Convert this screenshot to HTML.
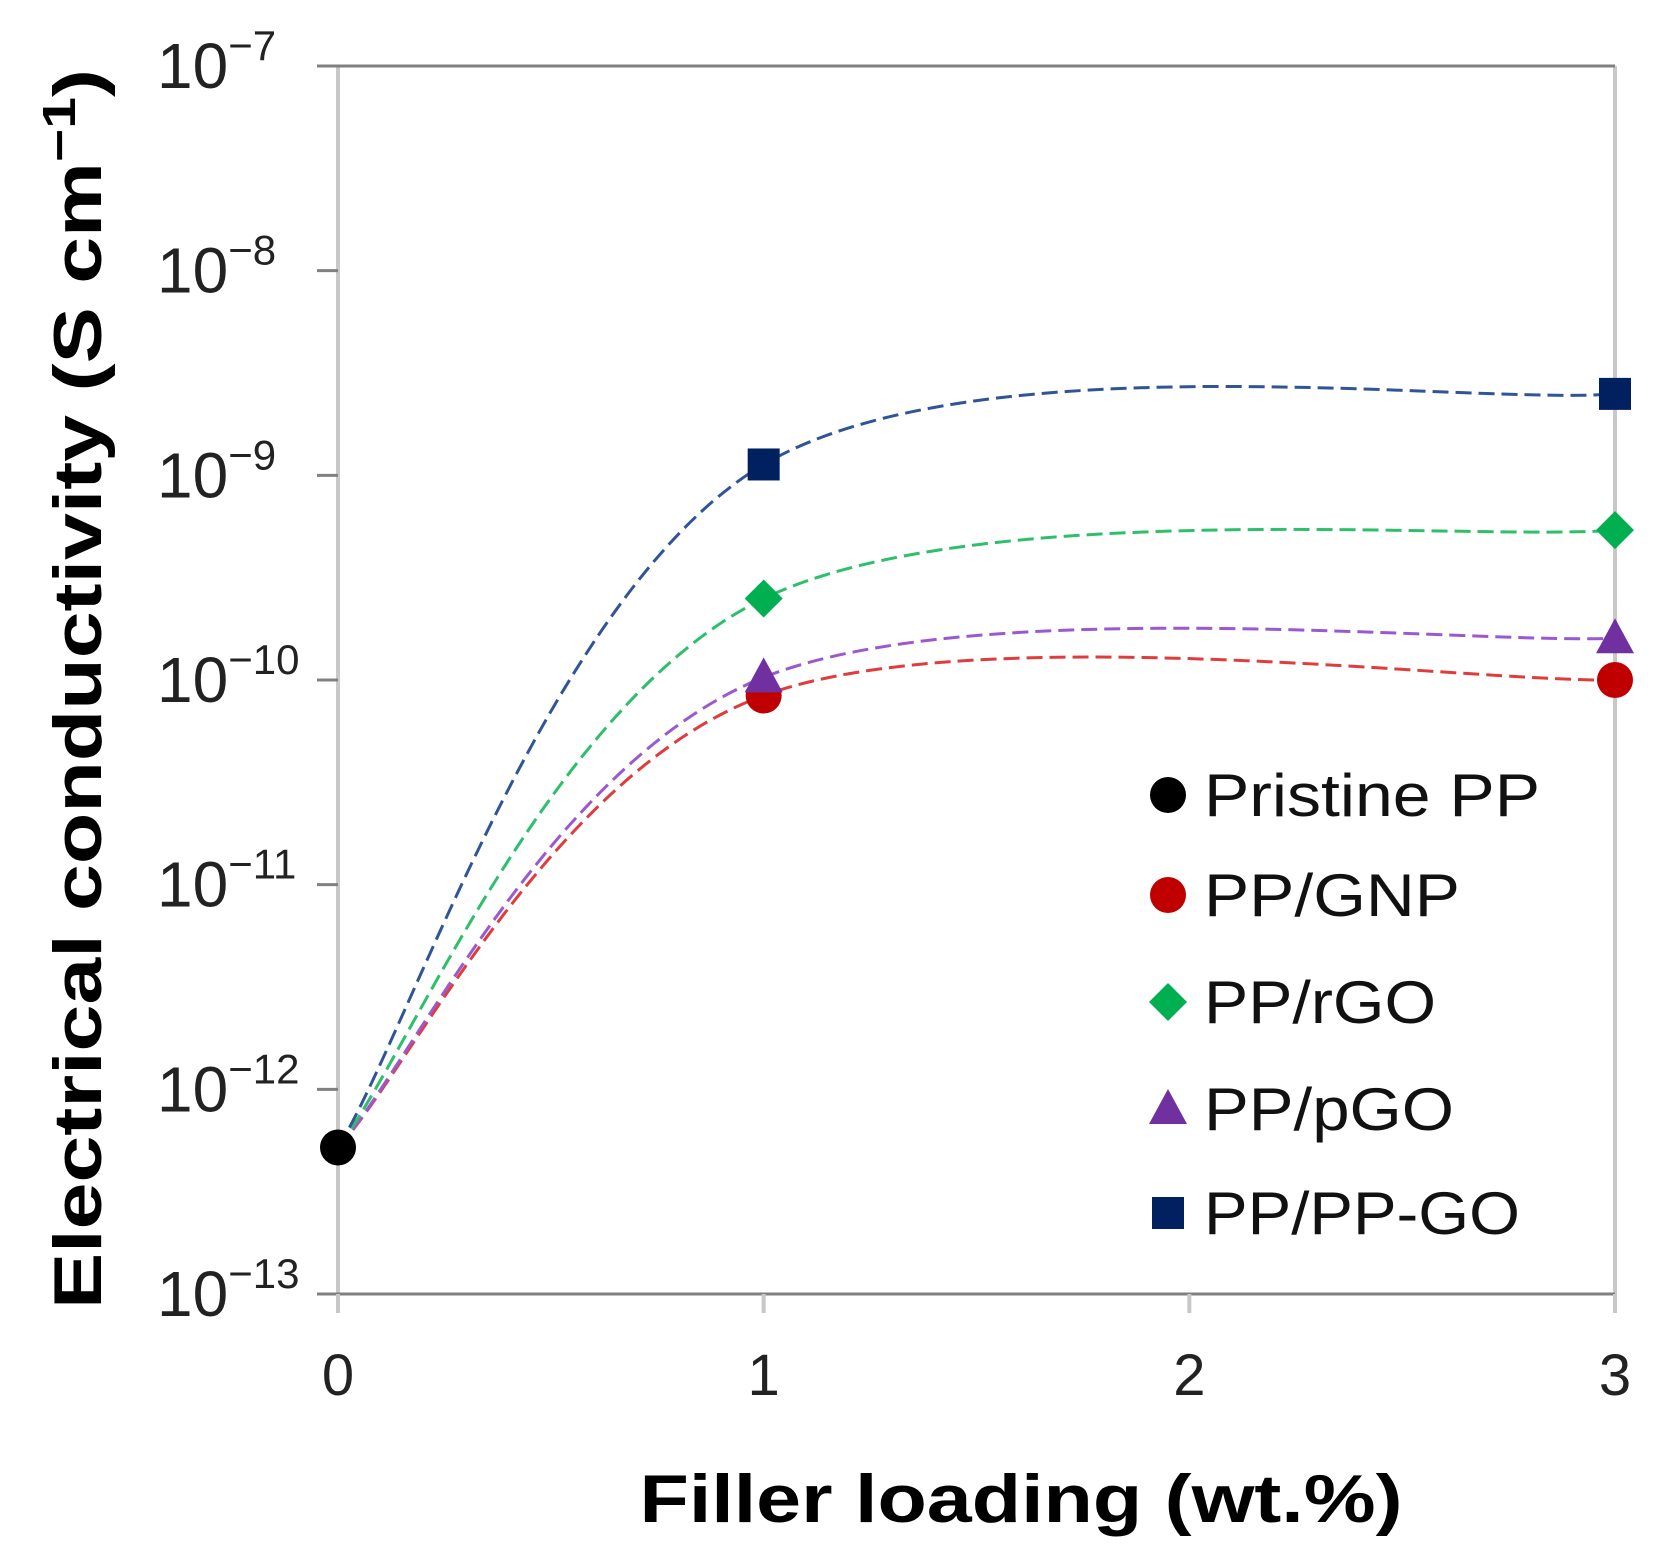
<!DOCTYPE html>
<html><head><meta charset="utf-8"><style>
html,body{margin:0;padding:0;background:#fff;}
svg{display:block;font-family:"Liberation Sans",Arial,sans-serif;}
</style></head><body>
<svg id="chart" width="1668" height="1564" viewBox="0 0 1668 1564" xmlns="http://www.w3.org/2000/svg">
<g id="axes"></g>
<g id="lines"></g>
<g id="marks"></g>
<g id="legend"></g>
<text x="1021" y="1522" text-anchor="middle" font-size="68" font-weight="bold" textLength="763" lengthAdjust="spacingAndGlyphs">Filler loading (wt.%)</text>
<text transform="translate(101,689) rotate(-90)" text-anchor="middle" font-size="68" font-weight="bold" textLength="1240" lengthAdjust="spacingAndGlyphs">Electrical conductivity (S cm<tspan font-size="46" dy="-26">−1</tspan><tspan dy="26">)</tspan></text>
</svg>
<script>
const xTicks=[0,1,2,3];
const yExps=[-13,-12,-11,-10,-9,-8,-7];
const seriesNames=["Pristine PP","PP/GNP","PP/rGO","PP/pGO","PP/PP-GO"];
const pristineX=[0];
const pristineY=[5.2e-13];
const loadX=[1,3];
const gnpY=[8.4e-11,1.0e-10];
const rgoY=[2.5e-10,5.4e-10];
const pgoY=[1.03e-10,1.6e-10];
const ppgoY=[1.13e-9,2.5e-9];

const NS="http://www.w3.org/2000/svg";
const X0=338,X1=1615,Y0=1294,Y1=66;
function sx(v){return X0+(v-0)/(3-0)*(X1-X0);}
function sy(v){const l=Math.log10(v);return Y0-(l-(-13))/6*(Y0-Y1);}
function mk(tag,attrs,parent){const e=document.createElementNS(NS,tag);for(const k in attrs)e.setAttribute(k,attrs[k]);parent.appendChild(e);return e;}
const axes=document.getElementById('axes'),lines=document.getElementById('lines'),marks=document.getElementById('marks'),legend=document.getElementById('legend');

let e;
e=mk('line',{x1:X0,y1:Y1,x2:X0,y2:Y0+1,stroke:'#c8c8c8','stroke-width':4},axes);

e=mk('line',{x1:X1,y1:Y1,x2:X1,y2:Y0,stroke:'#c8c8c8','stroke-width':4},axes);

e=mk('line',{x1:X0,y1:Y1,x2:X1,y2:Y1,stroke:'#808080','stroke-width':3},axes);

e=mk('line',{x1:X0,y1:Y0,x2:X1,y2:Y0,stroke:'#808080','stroke-width':3},axes);


yExps.forEach(p=>{
  const y=sy(Math.pow(10,p));
  const t=mk('line',{x1:317,y1:y,x2:X0,y2:y,stroke:'#808080','stroke-width':3},axes);
  
  const tx=mk('text',{x:157,y:y+22,'font-size':64,fill:'#222'},axes);
  
  tx.textContent='10';
  const sp=mk('tspan',{'font-size':42,dy:-28},tx);sp.textContent='−'+(-p);
});
xTicks.forEach(v=>{
  const x=sx(v);
  const t=mk('line',{x1:x,y1:Y0,x2:x,y2:1313,stroke:'#c8c8c8','stroke-width':4},axes);
  
  const tx=mk('text',{x:x,y:1395,'font-size':58,'text-anchor':'middle',fill:'#222'},axes);
  
  tx.textContent=String(v);
});

function curve(ys,color,name){
  const pts=[[sx(pristineX[0]),sy(pristineY[0])]].concat(loadX.map((x,i)=>[sx(x),sy(ys[i])]));
  let d='M'+pts[0][0]+','+pts[0][1];
  for(let i=0;i<pts.length-1;i++){
    const p0=pts[Math.max(0,i-1)],p1=pts[i],p2=pts[i+1],p3=pts[Math.min(pts.length-1,i+2)];
    const c1=[p1[0]+(p2[0]-p0[0])/6,p1[1]+(p2[1]-p0[1])/6];
    const c2=[p2[0]-(p3[0]-p1[0])/6,p2[1]-(p3[1]-p1[1])/6];
    d+=' C'+c1+' '+c2+' '+p2;
  }
  const p=mk('path',{d:d,fill:'none',stroke:color,'stroke-width':3,'stroke-dasharray':'16 7'},lines);
  
}
curve(gnpY,'#e03c3c','gnp-fit-line');
curve(pgoY,'#9b59d0','pgo-fit-line');
curve(rgoY,'#2ebf6a','rgo-fit-line');
curve(ppgoY,'#2f5597','ppgo-fit-line');

function marker(type,x,y,color,parent){
  let m;
  if(type==='circle')m=mk('circle',{cx:x,cy:y,r:18,fill:color},parent);
  else if(type==='square')m=mk('rect',{x:x-16,y:y-16,width:32,height:32,fill:color},parent);
  else if(type==='diamond')m=mk('polygon',{points:[x,y-19,x+19,y,x,y+19,x-19,y].join(' '),fill:color},parent);
  else m=mk('polygon',{points:[x,y-20,x+19,y+15,x-19,y+15].join(' '),fill:color},parent);
  return m;
}
const cfg=[["circle","#000000",null],["circle","#c00000",gnpY],["diamond","#00b050",rgoY],["triangle","#7030a0",pgoY],["square","#002060",ppgoY]];
let m=marker('circle',sx(pristineX[0]),sy(pristineY[0]),'#000',marks);

cfg.slice(1).forEach((c,k)=>{
  loadX.forEach((x,i)=>{
    const mm=marker(c[0],sx(x),sy(c[2][i]),c[1],marks);
    
  });
});

const legY=[795,895,1002,1109,1213];
const legW=[336,256,232,250,316];
seriesNames.forEach((n,i)=>{
  const g=mk('g',{},legend);
  
  marker(cfg[i][0],1168,legY[i],cfg[i][1],g);
  const t=mk('text',{x:1204,y:legY[i]+21,'font-size':60,fill:'#111',textLength:legW[i],lengthAdjust:'spacingAndGlyphs'},g);
  t.textContent=n;
});
</script>
</body></html>
